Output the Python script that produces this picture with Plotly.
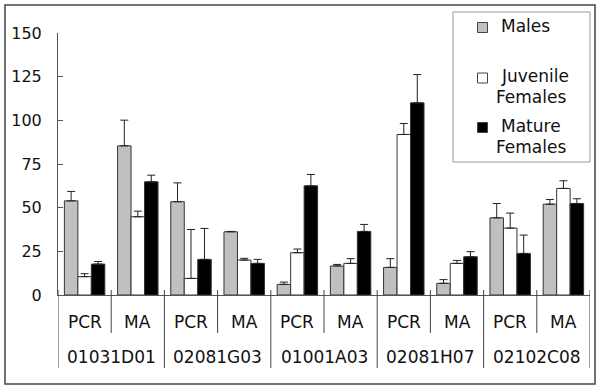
import plotly.graph_objects as go

# ---- data ----
markers = ["01031D01", "02081G03", "01001A03", "02081H07", "02102C08"]
methods = ["PCR", "MA"]
series_names = ["Males", "Juvenile Females", "Mature Females"]
males = [53.9, 85.4, 53.4, 36.2, 6.1, 16.6, 15.8, 6.7, 44.2, 52.0]
males_err = [5.4, 14.7, 10.8, 0.2, 1.3, 0.9, 5.0, 2.1, 8.2, 2.7]
juvenile = [10.5, 44.8, 9.5, 20.0, 24.2, 18.1, 91.9, 18.1, 38.3, 61.0]
juvenile_err = [1.7, 3.2, 28.0, 1.0, 2.1, 2.7, 6.3, 1.7, 8.6, 4.4]
mature = [17.7, 64.8, 20.4, 18.1, 62.5, 36.4, 110.0, 21.9, 23.8, 52.4]
mature_err = [1.5, 3.8, 17.7, 2.3, 6.5, 4.0, 16.2, 2.9, 10.5, 2.7]
y_ticks = [0, 25, 50, 75, 100, 125, 150]

cats = [f"{m} {t}" for m in markers for t in methods]
colors = ["#c0c0c0", "#ffffff", "#000000"]
values = [males, juvenile, mature]
errors = [males_err, juvenile_err, mature_err]

W, H = 600, 389
L, R, T, B = 58, 10, 33, 94
pw, ph = W - L - R, H - T - B


def px(xp):
    return (xp - L) / pw


def py(yp):
    return (H - B - yp) / ph


FONT = "DejaVu Sans"
fig = go.Figure()
for name, col, v, e in zip(series_names, colors, values, errors):
    fig.add_trace(go.Bar(
        x=cats, y=v, name=name,
        marker=dict(color=col, line=dict(color="#333333", width=1)),
        error_y=dict(type="data", symmetric=False, array=e,
                     arrayminus=[0] * len(e), color="#222222",
                     thickness=1, width=4),
        showlegend=False,
    ))

shapes = []
# separators below the axis
for k in range(11):
    xb = -0.5 + k
    group = (k % 2 == 0)
    shapes.append(dict(type="line", xref="x", yref="paper",
                       x0=xb, x1=xb, y0=py(290),
                       y1=py(368 if group else 333),
                       line=dict(color="#444444", width=1)))
# outer frame
shapes.append(dict(type="rect", xref="paper", yref="paper",
                   x0=px(5), x1=px(595), y0=py(384), y1=py(5),
                   line=dict(color="#444444", width=1.5)))
# legend box
shapes.append(dict(type="rect", xref="paper", yref="paper",
                   x0=px(453), x1=px(590), y0=py(162), y1=py(12),
                   line=dict(color="#999999", width=1), fillcolor="white",
                   layer="above"))
annotations = []
# legend squares and text
sq_y = [27.5, 78, 127.5]
text_lines = [[("Males", 499, 26)],
              [("Juvenile", 499, 76), ("Females", 494, 97)],
              [("Mature", 499, 126), ("Females", 494, 147)]]
for col, cy, lines in zip(colors, sq_y, text_lines):
    shapes.append(dict(type="rect", xref="paper", yref="paper",
                       x0=px(477.5), x1=px(487.5), y0=py(cy + 5), y1=py(cy - 5),
                       line=dict(color="#444444", width=1), fillcolor=col,
                       layer="above"))
    for txt, xl, yc in lines:
        annotations.append(dict(text=txt, xref="paper", yref="paper",
                                x=px(xl), y=py(yc), xanchor="left",
                                yanchor="middle", showarrow=False,
                                font=dict(family=FONT, size=17, color="#111111")))

# category labels
for i, c in enumerate(cats):
    annotations.append(dict(text=methods[i % 2], xref="x", yref="paper",
                            x=i, y=py(322), xanchor="center", yanchor="middle",
                            showarrow=False,
                            font=dict(family=FONT, size=17, color="#111111")))
for g, m in enumerate(markers):
    annotations.append(dict(text=m, xref="x", yref="paper",
                            x=2 * g + 0.5, y=py(357), xanchor="center",
                            yanchor="middle", showarrow=False,
                            font=dict(family=FONT, size=17, color="#111111")))

fig.update_layout(
    width=W, height=H,
    margin=dict(l=L, r=R, t=T, b=B, pad=0),
    paper_bgcolor="white", plot_bgcolor="white",
    barmode="group", bargap=0.24, bargroupgap=0,
    shapes=shapes, annotations=annotations,
    xaxis=dict(type="category", range=[-0.5, 9.5], showticklabels=False,
               showline=True, linecolor="#555555", linewidth=1,
               ticks="", showgrid=False, zeroline=False, fixedrange=True),
    yaxis=dict(range=[0, 150], tickvals=y_ticks, showline=True,
               linecolor="#555555", linewidth=1, ticks="inside", ticklen=5,
               tickcolor="#555555", showgrid=False, zeroline=False,
               ticklabelstandoff=12,
               tickfont=dict(family=FONT, size=16, color="#111111")),
)
fig.write_html("out.html",
               config={"displayModeBar": False},
               post_script="document.body.style.margin='0';"
                           "document.body.style.overflow='hidden';")
